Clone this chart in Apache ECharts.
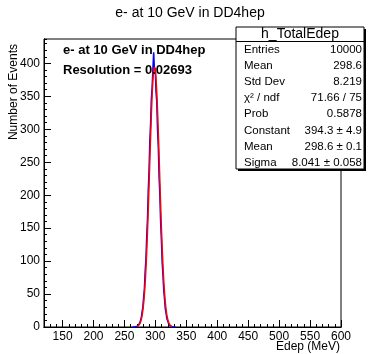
<!DOCTYPE html>
<html><head><meta charset="utf-8">
<script src="https://cdn.jsdelivr.net/npm/echarts@6/dist/echarts.min.js"></script>
<style>html,body{margin:0;padding:0;background:#fff}#c{width:368px;height:354px}</style>
</head><body><div id="c"></div>
<script>
// ---- data ----
const binCenters = [262.875,264.125,265.375,266.625,267.875,269.125,270.375,271.625,272.875,274.125,275.375,276.625,277.875,279.125,280.375,281.625,282.875,284.125,285.375,286.625,287.875,289.125,290.375,291.625,292.875,294.125,295.375,296.625,297.875,299.125,300.375,301.625,302.875,304.125,305.375,306.625,307.875,309.125,310.375,311.625,312.875,314.125,315.375,316.625,317.875,319.125,320.375,321.625,322.875,324.125,325.375,326.625,327.875,329.125,330.375,331.625,332.875];
const counts = [0,0,1,0,0,1,1,2,3,4,6,10,14,23,30,45,58,84,103,137,164,207,236,282,308,346,363,391,417,389,393,357,342,299,273,228,200,159,132,98,79,56,43,28,21,13,10,6,4,2,1,1,0,1,0,0,0];
const fitX = [270.625,271.875,273.125,274.375,275.625,276.875,278.125,279.375,280.625,281.875,283.125,284.375,285.625,286.875,288.125,289.375,290.625,291.875,293.125,294.375,295.625,296.875,298.125,298.6,299.375,300.625,301.875,303.125,304.375,305.625,306.875,308.125,309.375,310.625,311.875,313.125,314.375,315.625,316.875,318.125,319.375,320.625,321.875,323.125,324.375,325.625,326.875];
const fitY = [0.9,1.6,2.6,4.2,6.6,10.2,15.4,22.6,32.4,45.3,61.9,82.4,107.2,136.2,168.7,204.2,241.1,277.9,312.6,343.5,368.2,385.3,393.6,394.3,392.5,382.0,362.9,336.5,304.6,269.2,232.2,195.5,160.6,128.9,100.9,77.1,57.5,41.9,29.8,20.7,14.0,9.3,6.0,3.8,2.3,1.4,0.8];
const xTicks = [150,200,250,300,350,400,450,500,550,600];
const yTicks = [0,50,100,150,200,250,300,350,400];
const statsRows = [["Entries","10000"],["Mean","298.6"],["Std Dev","8.219"],["χ² / ndf","71.66 / 75"],["Prob","0.5878"],["Constant","394.3 ± 4.9"],["Mean","298.6 ± 0.1"],["Sigma","8.041 ± 0.058"]];
const titleText = "e- at 10 GeV in DD4hep";
const noteLines = ["e- at 10 GeV in DD4hep","Resolution = 0.02693"];

const FONT = "Liberation Sans, Arial, sans-serif";
const chart = echarts.init(document.getElementById('c'));
const histData = binCenters.map((x,i)=>[x,counts[i]]);
const fitData = fitX.map((x,i)=>[x,fitY[i]]);

const graphics = [
  {type:'text', x:190, y:13, style:{text:titleText, font:'14px '+FONT, fill:'#000', align:'center', verticalAlign:'middle'}},
  {type:'text', x:14, y:44, rotation:Math.PI/2, style:{text:'Number of Events', font:'12px '+FONT, fill:'#000', align:'right', verticalAlign:'middle'}},
  {type:'text', x:340, y:347, style:{text:'Edep (MeV)', font:'12px '+FONT, fill:'#000', align:'right', verticalAlign:'middle'}},
  {type:'text', x:63, y:50, style:{text:noteLines[0], font:'bold 13px '+FONT, fill:'#000', verticalAlign:'middle'}, z:10},
  {type:'text', x:63, y:70, style:{text:noteLines[1], font:'bold 13px '+FONT, fill:'#000', verticalAlign:'middle'}, z:10},
  // stats box shadow
  {type:'rect', shape:{x:238, y:29, width:128, height:142}, style:{fill:'#000'}, z:20},
  {type:'rect', shape:{x:236, y:27, width:128, height:142}, style:{fill:'#fff', stroke:'#000', lineWidth:1}, z:21},
  {type:'line', shape:{x1:236, y1:41.5, x2:364, y2:41.5}, style:{stroke:'#000', lineWidth:1}, z:22},
  {type:'text', x:300, y:34, style:{text:'h_TotalEdep', font:'14px '+FONT, fill:'#000', align:'center', verticalAlign:'middle'}, z:22}
];
statsRows.forEach((r,i)=>{
  const y = 49.5 + i*16.2;
  graphics.push({type:'text', x:244, y:y, style:{text:r[0], font:'11.5px '+FONT, fill:'#000', verticalAlign:'middle'}, z:22});
  graphics.push({type:'text', x:362, y:y, style:{text:r[1], font:'11.5px '+FONT, fill:'#000', align:'right', verticalAlign:'middle'}, z:22});
});

const axisLineStyle = {show:true, lineStyle:{color:'#000', width:1}};
chart.setOption({
  animation:false,
  backgroundColor:'#fff',
  grid:{left:44, right:27, top:39, bottom:27, show:true, borderColor:'#000', borderWidth:1, backgroundColor:'transparent'},
  xAxis:[
    {type:'value', min:120, max:600, interval:10, axisLine:axisLineStyle, splitLine:{show:false},
     axisTick:{show:true, inside:true, length:3, lineStyle:{color:'#000'}}, axisLabel:{show:false}},
    {type:'value', min:120, max:600, position:'bottom', axisLine:axisLineStyle, splitLine:{show:false},
     axisTick:{show:true, inside:true, length:7, customValues:xTicks, lineStyle:{color:'#000'}},
     axisLabel:{show:true, customValues:xTicks, margin:4, color:'#000', fontSize:12, fontFamily:FONT}}
  ],
  yAxis:[
    {type:'value', min:0, max:437, interval:10, axisLine:axisLineStyle, splitLine:{show:false},
     axisTick:{show:true, inside:true, length:3, lineStyle:{color:'#000'}}, axisLabel:{show:false}},
    {type:'value', min:0, max:437, position:'left', axisLine:axisLineStyle, splitLine:{show:false},
     axisTick:{show:true, inside:true, length:7, customValues:yTicks, lineStyle:{color:'#000'}},
     axisLabel:{show:true, customValues:yTicks, margin:4, color:'#000', fontSize:12, fontFamily:FONT}}
  ],
  series:[
    {type:'line', xAxisIndex:0, yAxisIndex:0, data:histData, step:'middle', showSymbol:false, lineStyle:{color:'#0000ff', width:1.5}, z:3},
    {type:'line', xAxisIndex:0, yAxisIndex:0, data:fitData, smooth:true, showSymbol:false, lineStyle:{color:'#ff0000', width:1.5}, z:4}
  ],
  graphic:graphics
});
</script></body></html>
